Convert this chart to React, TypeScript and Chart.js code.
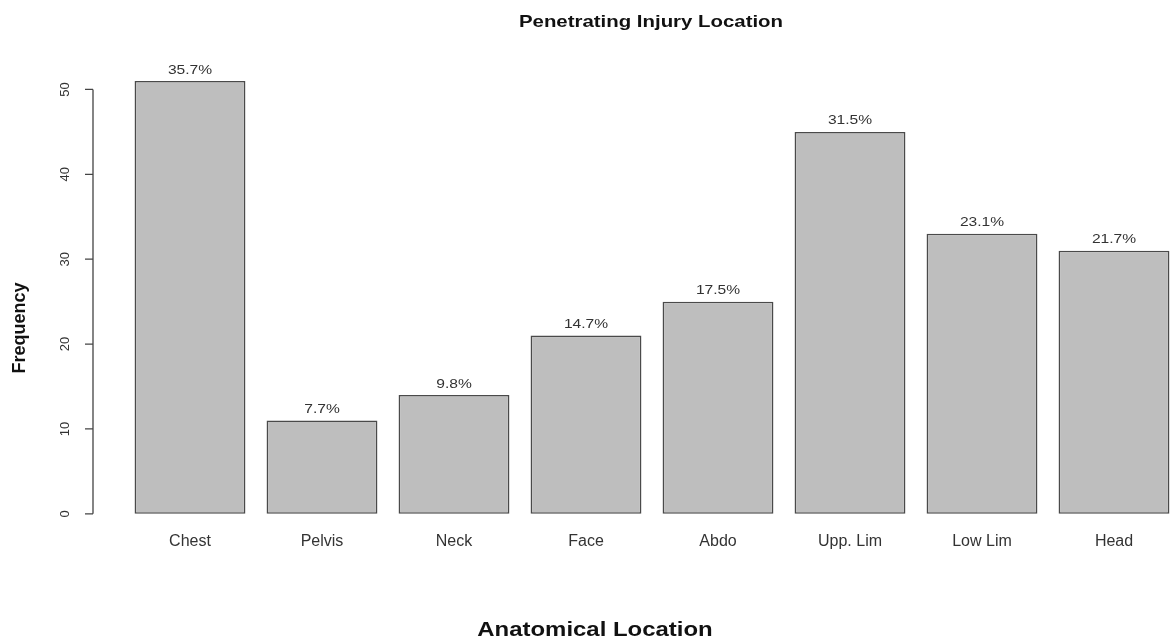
import { useEffect, useRef } from 'react';
import { Chart, registerables } from 'chart.js';

Chart.register(...registerables);

const categories = ['Chest', 'Pelvis', 'Neck', 'Face', 'Abdo', 'Upp. Lim', 'Low Lim', 'Head'];
const frequencies = [51, 11, 14, 21, 25, 45, 33, 31];
const percentLabels = ['35.7%', '7.7%', '9.8%', '14.7%', '17.5%', '31.5%', '23.1%', '21.7%'];
const yTicks = [0, 10, 20, 30, 40, 50];
const chartTitle = 'Penetrating Injury Location';
const xTitle = 'Anatomical Location';
const yTitle = 'Frequency';

const FONT = '"Liberation Sans", Arial, Helvetica, sans-serif';

function stretchedText(
  ctx: CanvasRenderingContext2D,
  text: string,
  x: number,
  y: number,
  font: string,
  sx: number,
  angle = 0
) {
  ctx.save();
  ctx.translate(x, y);
  if (angle) ctx.rotate(angle);
  ctx.scale(sx, 1);
  ctx.font = font;
  ctx.textAlign = 'center';
  ctx.textBaseline = 'middle';
  ctx.fillText(text, 0, 0);
  ctx.restore();
}

const decorPlugin = {
  id: 'rDecor',
  afterDraw(chart: any) {
    const ctx = chart.ctx as CanvasRenderingContext2D;
    const ys = chart.scales.y;
    ctx.save();
    // y axis (R style, offset from bars)
    const ax = 93;
    const y0 = ys.getPixelForValue(yTicks[0]);
    const y1 = ys.getPixelForValue(yTicks[yTicks.length - 1]);
    ctx.strokeStyle = '#444';
    ctx.lineWidth = 1.3;
    ctx.beginPath();
    ctx.moveTo(ax, y0);
    ctx.lineTo(ax, y1);
    for (const t of yTicks) {
      const py = ys.getPixelForValue(t);
      ctx.moveTo(ax, py);
      ctx.lineTo(ax - 8, py);
    }
    ctx.stroke();
    ctx.fillStyle = '#333';
    for (const t of yTicks) {
      const py = ys.getPixelForValue(t);
      stretchedText(ctx, String(t), 65, py, `13px ${FONT}`, 1, -Math.PI / 2);
    }
    // percent labels above bars
    const meta = chart.getDatasetMeta(0);
    meta.data.forEach((el: any, i: number) => {
      stretchedText(ctx, percentLabels[i], el.x, el.y - 11, `13px ${FONT}`, 1.2);
    });
    // titles
    ctx.fillStyle = '#111';
    stretchedText(ctx, chartTitle, 651, 22, `bold 17px ${FONT}`, 1.2);
    stretchedText(ctx, xTitle, 595, 630, `bold 21px ${FONT}`, 1.14);
    stretchedText(ctx, yTitle, 20, 328, `bold 18px ${FONT}`, 1, -Math.PI / 2);
    ctx.restore();
  },
};

export default function App() {
  const ref = useRef<HTMLCanvasElement | null>(null);
  useEffect(() => {
    if (!ref.current) return;
    const chart = new Chart(ref.current, {
      type: 'bar',
      data: {
        labels: categories,
        datasets: [
          {
            data: frequencies,
            backgroundColor: '#BEBEBE',
            borderColor: '#4a4a4a',
            borderWidth: 1.6,
            borderSkipped: false,
            categoryPercentage: 1,
            barPercentage: 0.84,
            clip: false as any,
          },
        ],
      },
      options: {
        responsive: false,
        animation: false,
        devicePixelRatio: 1,
        layout: { padding: { left: 124, right: 20, top: 64, bottom: 74 } },
        plugins: {
          legend: { display: false },
          tooltip: { enabled: false },
          title: { display: false },
        },
        scales: {
          x: {
            grid: { display: false, drawTicks: false },
            border: { display: false },
            ticks: {
              color: '#333',
              font: { family: FONT, size: 16 },
              padding: 18,
              maxRotation: 0,
              autoSkip: false,
            },
          },
          y: {
            display: false,
            min: 0,
            max: 53,
          },
        },
      },
      plugins: [decorPlugin],
    });
    return () => chart.destroy();
  }, []);
  return (
    <div
      style={{
        position: 'fixed',
        left: 0,
        top: 0,
        width: 1170,
        height: 643,
        overflow: 'hidden',
        background: '#fff',
      }}
    >
      <canvas ref={ref} width={1200} height={643} style={{ display: 'block' }} />
    </div>
  );
}
